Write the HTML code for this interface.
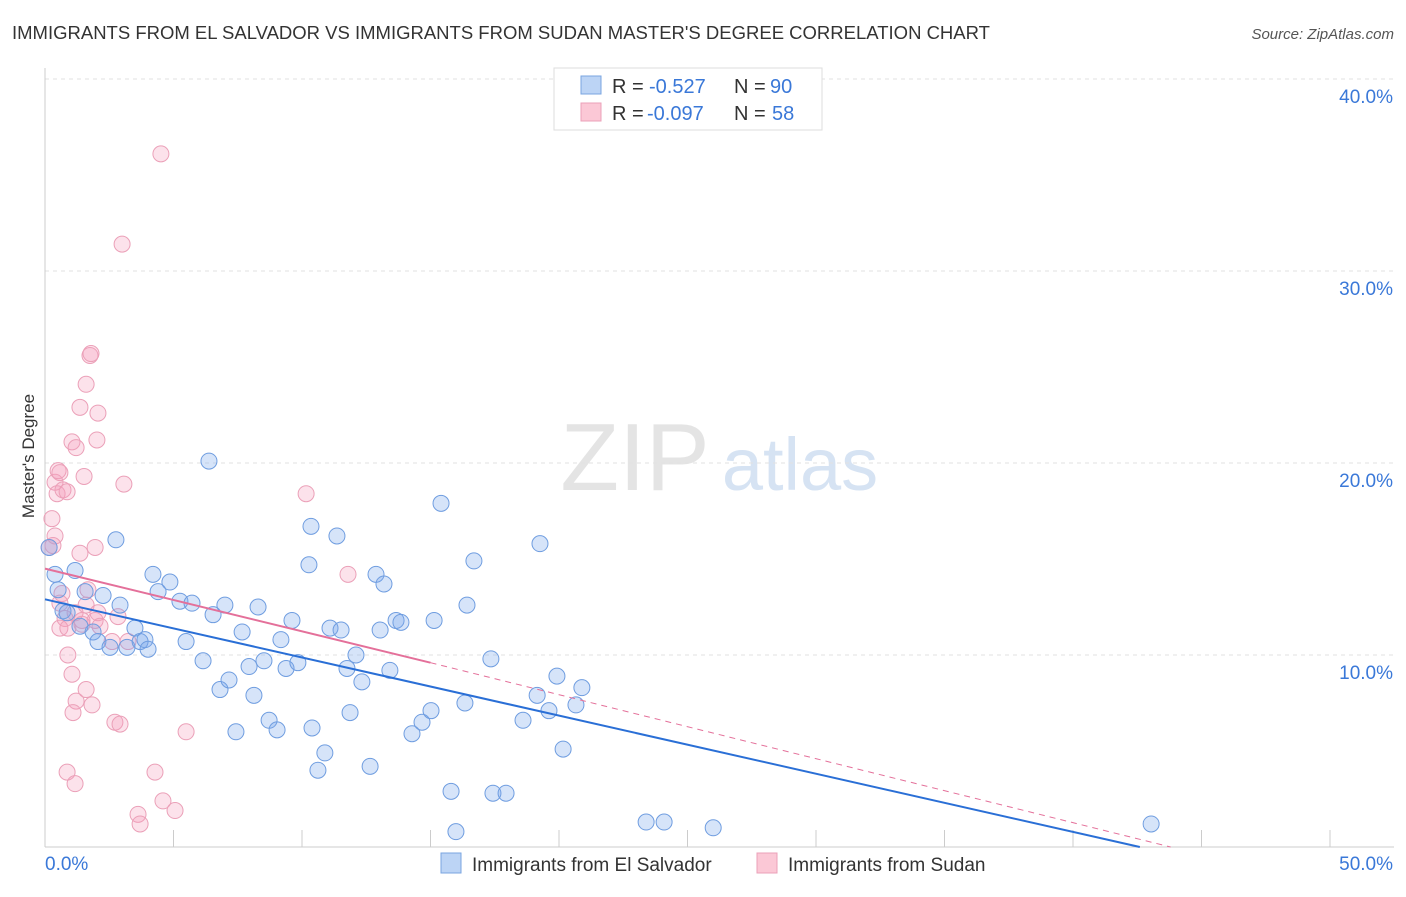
<!DOCTYPE html>
<html><head><meta charset="utf-8"><style>
body{margin:0;background:#fff;font-family:"Liberation Sans",sans-serif;}
svg text{font-family:"Liberation Sans",sans-serif;}
</style></head><body>
<svg id="chart" width="1406" height="892">
<text x="12" y="39" font-size="18.5" fill="#333">IMMIGRANTS FROM EL SALVADOR VS IMMIGRANTS FROM SUDAN MASTER'S DEGREE CORRELATION CHART</text>
<text x="1394" y="39" font-size="15" fill="#555" text-anchor="end" font-style="italic">Source: ZipAtlas.com</text>
<text x="34" y="456" font-size="17" fill="#333" text-anchor="middle" transform="rotate(-90 34 456)">Master's Degree</text>
<g><text x="635" y="490" font-size="96" fill="#e4e4e4" text-anchor="middle" font-family="Liberation Serif">ZIP</text><text x="800" y="490" font-size="74" fill="#d6e3f3" text-anchor="middle">atlas</text></g>
<g id="grid"></g><g id="axes"></g><g id="marks"></g>
<g>
<rect x="554" y="68" width="268" height="62" fill="#fff" stroke="#ddd"/>
<rect x="581" y="76" width="20" height="18" fill="#bcd4f5" stroke="#7aa5e0"/>
<rect x="581" y="103" width="20" height="18" fill="#fbc8d6" stroke="#eba0b8"/>
<text x="612" y="93" font-size="20" fill="#333">R =</text><text x="649" y="93" font-size="20" fill="#3a78d8">-0.527</text>
<text x="734" y="93" font-size="20" fill="#333">N =</text><text x="770" y="93" font-size="20" fill="#3a78d8">90</text>
<text x="612" y="120" font-size="20" fill="#333">R =</text><text x="647" y="120" font-size="20" fill="#3a78d8">-0.097</text>
<text x="734" y="120" font-size="20" fill="#333">N =</text><text x="772" y="120" font-size="20" fill="#3a78d8">58</text>
</g>
<g>
<rect x="441" y="853" width="20" height="20" fill="#bcd4f5" stroke="#7aa5e0"/>
<text x="472" y="871" font-size="19" fill="#333">Immigrants from El Salvador</text>
<rect x="757" y="853" width="20" height="20" fill="#fbc8d6" stroke="#eba0b8"/>
<text x="788" y="871" font-size="19" fill="#333">Immigrants from Sudan</text>
</g>
</svg>
<script>
const yTicks=[10,20,30,40];
const xTickLabels=["0.0%","50.0%"];
const blueX=[0.39,0.16,0.51,0.7,0.86,1.17,1.36,1.56,1.87,2.06,2.26,2.53,2.76,2.92,3.19,3.5,3.7,3.89,4.01,4.2,4.4,4.86,5.25,5.49,5.72,6.15,6.38,6.54,6.81,7.0,7.16,7.43,7.67,7.94,8.13,8.29,8.52,8.72,9.03,9.18,9.38,9.61,9.84,10.27,10.35,10.39,10.62,10.89,11.09,11.36,11.52,11.75,11.87,12.1,12.33,12.65,12.88,13.04,13.19,13.42,13.66,13.85,14.28,14.67,15.02,15.14,15.41,15.8,15.99,16.34,16.42,16.69,17.35,17.43,17.94,18.6,19.26,19.15,19.61,19.92,20.16,20.66,20.89,23.39,24.09,26.0,43.04];
const blueY=[14.2,15.6,13.4,12.3,12.2,14.4,11.5,13.3,11.2,10.7,13.1,10.4,16.0,12.6,10.4,11.4,10.7,10.8,10.3,14.2,13.3,13.8,12.8,10.7,12.7,9.7,20.1,12.1,8.2,12.6,8.7,6.0,11.2,9.4,7.9,12.5,9.7,6.6,6.1,10.8,9.3,11.8,9.6,14.7,16.7,6.2,4.0,4.9,11.4,16.2,11.3,9.3,7.0,10.0,8.6,4.2,14.2,11.3,13.7,9.2,11.8,11.7,5.9,6.5,7.1,11.8,17.9,2.9,0.8,7.5,12.6,14.9,9.8,2.8,2.8,6.6,15.8,7.9,7.1,8.9,5.1,7.4,8.3,1.3,1.3,1.0,1.2];
const pinkX=[0.16,0.27,0.39,0.31,0.39,0.47,0.7,0.86,0.51,0.58,1.05,1.21,1.52,0.66,0.58,0.78,0.58,0.89,1.17,1.44,1.6,1.67,1.95,2.06,2.14,2.61,2.84,0.89,1.05,1.21,1.6,1.09,1.83,0.86,1.17,1.36,1.6,1.75,1.79,2.06,2.02,1.36,1.95,3.07,2.72,2.92,3.23,3.0,4.51,10.16,11.79,4.28,4.59,5.06,3.62,3.7,5.49,1.44];
const pinkY=[15.6,17.1,16.2,15.7,19.0,18.4,18.6,18.5,19.6,19.5,21.1,20.8,19.3,13.2,12.7,11.9,11.4,11.4,12.2,11.6,12.6,13.4,11.8,12.2,11.5,10.7,12.0,10.0,9.0,7.6,8.2,7.0,7.4,3.9,3.3,22.9,24.1,25.6,25.7,22.6,21.2,15.3,15.6,18.9,6.5,6.4,10.7,31.4,36.1,18.4,14.2,3.9,2.4,1.9,1.7,1.2,6.0,11.8];
const blueTrend=[[0,12.9],[42.6,0]];
const pinkTrend=[[0,14.5],[15,9.6]];
const pinkDash=[[15,9.6],[43.8,0]];
const X=v=>45+v*25.7, Y=v=>847-v*19.2;
const NS="http://www.w3.org/2000/svg";
function mk(t,a,p){const e=document.createElementNS(NS,t);for(const k in a)e.setAttribute(k,a[k]);p.appendChild(e);return e;}
const grid=document.getElementById('grid'),axes=document.getElementById('axes'),marks=document.getElementById('marks');
yTicks.forEach(t=>{
 const l=mk('line',{x1:45,x2:1394,y1:Y(t),y2:Y(t),stroke:'#e2e2e2','stroke-dasharray':'4,4'},grid);
 
 
 const tx=mk('text',{x:1393,y:Y(t)+24,'font-size':19,fill:'#3a78d8','text-anchor':'end'},axes);
 tx.textContent=t.toFixed(1)+'%';
 
 
});
mk('line',{x1:45,x2:45,y1:68,y2:847,stroke:'#ccc'},axes);
mk('line',{x1:45,x2:1394,y1:847,y2:847,stroke:'#ccc'},axes);
for(let i=0;i<=10;i++){mk('line',{x1:X(i*5),x2:X(i*5),y1:830,y2:847,stroke:'#ccc'},axes);}
const xl0=mk('text',{x:45,y:870,'font-size':19,fill:'#3a78d8'},axes);xl0.textContent=xTickLabels[0];


const xl1=mk('text',{x:1393,y:870,'font-size':19,fill:'#3a78d8','text-anchor':'end'},axes);xl1.textContent=xTickLabels[1];


function dots(xs,ys,fill,stroke,name){xs.forEach((x,i)=>{const c=mk('circle',{cx:X(x),cy:Y(ys[i]),r:8,fill:fill,stroke:stroke,'stroke-width':1},marks);
 
 });}
dots(pinkX,pinkY,'rgba(244,160,188,0.3)','#eba0b8','point-sudan');
dots(blueX,blueY,'rgba(120,165,235,0.3)','#6f9de0','point-el-salvador');
const bt=mk('line',{x1:X(blueTrend[0][0]),y1:Y(blueTrend[0][1]),x2:X(blueTrend[1][0]),y2:Y(blueTrend[1][1]),stroke:'#2a6fd6','stroke-width':2},marks);


const pd=mk('line',{x1:X(pinkDash[0][0]),y1:Y(pinkDash[0][1]),x2:X(pinkDash[1][0]),y2:Y(pinkDash[1][1]),stroke:'#e4709a','stroke-width':1,'stroke-dasharray':'6,5'},marks);


const pt=mk('line',{x1:X(pinkTrend[0][0]),y1:Y(pinkTrend[0][1]),x2:X(pinkTrend[1][0]),y2:Y(pinkTrend[1][1]),stroke:'#e4709a','stroke-width':2},marks);


</script>
</body></html>
